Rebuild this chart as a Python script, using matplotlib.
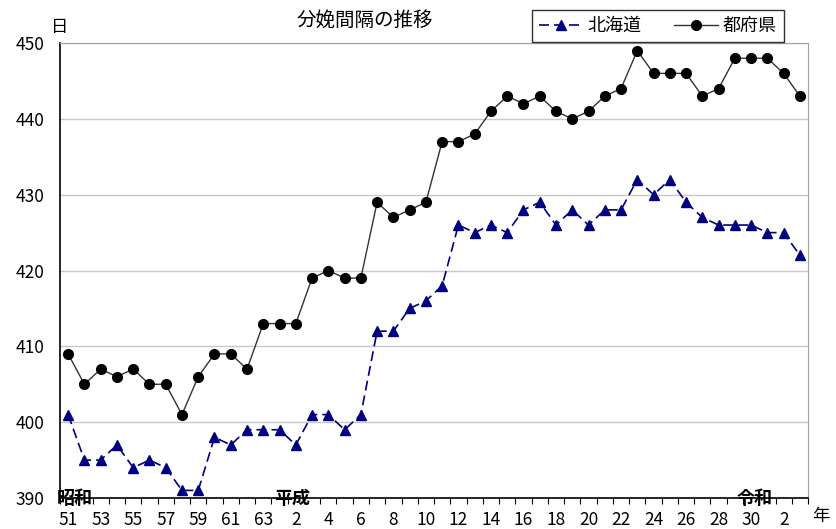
import numpy as np
import matplotlib
matplotlib.use('Agg')
import matplotlib.pyplot as plt

plt.rcParams['font.family'] = ['Noto Sans CJK JP', 'DejaVu Sans']

# ====================== DATA ======================
# 昭和51年 (1976) ~ 令和3年 (2021)
year_labels = ['51', '52', '53', '54', '55', '56', '57', '58', '59', '60',
               '61', '62', '63', '元', '2', '3', '4', '5', '6', '7',
               '8', '9', '10', '11', '12', '13', '14', '15', '16', '17',
               '18', '19', '20', '21', '22', '23', '24', '25', '26', '27',
               '28', '29', '30', '元', '2', '3']

hokkaido = [401, 395, 395, 397, 394, 395, 394, 391, 391, 398,
            397, 399, 399, 399, 397, 401, 401, 399, 401, 412,
            412, 415, 416, 418, 426, 425, 426, 425, 428, 429,
            426, 428, 426, 428, 428, 432, 430, 432, 429, 427,
            426, 426, 426, 425, 425, 422]

tofuken = [409, 405, 407, 406, 407, 405, 405, 401, 406, 409,
           409, 407, 413, 413, 413, 419, 420, 419, 419, 429,
           427, 428, 429, 437, 437, 438, 441, 443, 442, 443,
           441, 440, 441, 443, 444, 449, 446, 446, 446, 443,
           444, 448, 448, 448, 446, 443]

# 元号ラベル (位置はインデックス)
eras = [('昭和', 0.4), ('平成', 13.75), ('令和', 42.2)]

# ====================== PLOT ======================
fig = plt.figure(figsize=(8.37, 5.29), dpi=100)
ax = fig.add_axes([0.0717, 0.0586, 0.8937, 0.860])

x = np.arange(len(year_labels))

ax.plot(x, hokkaido, color='#000080', lw=1.2, dashes=(6, 3),
        marker='^', markersize=7, markerfacecolor='#000080',
        markeredgecolor='#000080', label='北海道', zorder=3)
ax.plot(x, tofuken, color='#333333', lw=1.0,
        marker='o', markersize=7, markerfacecolor='black',
        markeredgecolor='black', label='都府県', zorder=3)

ax.set_xlim(-0.5, len(x) - 0.5)
ax.set_ylim(390, 450)

# y軸
ax.set_yticks(np.arange(390, 451, 10))
ax.tick_params(axis='y', length=0, pad=11, labelsize=12.5)
ax.yaxis.grid(True, color='#c8c8c8', lw=1)
ax.set_axisbelow(True)

# x軸: 目盛は区切り、ラベルは2年ごと
ax.set_xticks(np.arange(-0.5, len(x), 1.0))
ax.set_xticklabels([])
ax.tick_params(axis='x', which='major', length=4, direction='out', color='black')
ax.set_xticks(x[::2], minor=True)
ax.set_xticklabels(year_labels[::2], minor=True)
ax.tick_params(axis='x', which='minor', length=0, pad=9, labelsize=12.5)

for side in ['top', 'right']:
    ax.spines[side].set_color('#a0a0a0')
for side in ['left', 'bottom']:
    ax.spines[side].set_color('black')
    ax.spines[side].set_linewidth(1.2)

for name, pos in eras:
    ax.text(pos, 390, name, ha='center', va='center', fontsize=13,
            fontweight='bold', zorder=5)

ax.text(-0.5, 452.1, '日', ha='center', va='center', fontsize=12.5, clip_on=False)
ax.text(46.3, 387.6, '年', ha='center', va='center', fontsize=12.5, clip_on=False)

fig.text(0.436, 0.962, '分娩間隔の推移', ha='center', va='center', fontsize=14)

leg = ax.legend(loc='upper right', bbox_to_anchor=(0.937, 0.981),
                bbox_transform=fig.transFigure, ncol=2, fontsize=13,
                frameon=True, fancybox=False, edgecolor='black',
                handlelength=2.4, columnspacing=1.8, borderpad=0.4,
                borderaxespad=0, handletextpad=0.3)
leg.get_frame().set_linewidth(1.0)

fig.savefig('out.png', dpi=100)
